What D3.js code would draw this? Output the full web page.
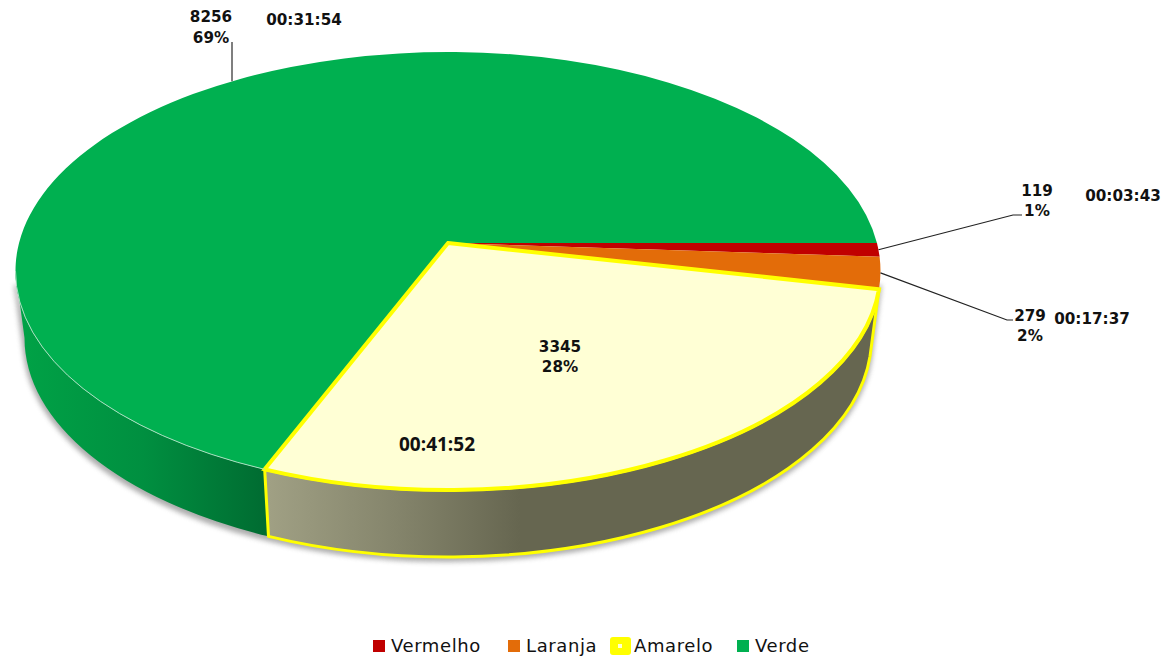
<!DOCTYPE html>
<html>
<head>
<meta charset="utf-8">
<script src="https://d3js.org/d3.v7.min.js"></script>
<style>
  html, body { margin: 0; padding: 0; background: #fff; }
  svg { display: block; }
  .lbl { font-family: "DejaVu Sans", sans-serif; font-weight: bold; font-size: 15.2px; fill: #111; text-anchor: middle; }
  .legend-text { font-family: "DejaVu Sans", sans-serif; font-size: 18px; letter-spacing: 0.6px; fill: #111; }
</style>
</head>
<body>
<div id="chart"></div>
<script>
const categories = ["Vermelho", "Laranja", "Amarelo", "Verde"];
const counts = [119, 279, 3345, 8256];
const percents = ["1%", "2%", "28%", "69%"];
const times = ["00:03:43", "00:17:37", "00:41:52", "00:31:54"];
const colors = ["#C00000", "#E36C09", "#FFFFD5", "#00B050"];

const width = 1164;
const height = 656;

const svg = d3.select("#chart")
    .append("svg")
    .attr("width", width)
    .attr("height", height);

// pie geometry, the top is a tilted disc so the apex sits above the ellipse centre
const cx = 448, cy = 271, rx = 432.5, ry = 219;
const apexY = 243;
const depth = 67, bottomRx = 423.5;

const arcs = d3.pie().sort(null).startAngle(Math.PI / 2).endAngle(Math.PI * 2.5)(counts);

// angle on the ellipse where a ray from the apex at pie angle a lands
function rimAngle(a) {
    const k = (cy - apexY) / ry;
    const dx = Math.cos(a - Math.PI / 2), dy = Math.sin(a - Math.PI / 2);
    const b = -k * dy;
    const t = -b + Math.sqrt(b * b - (k * k - 1));
    return Math.atan2(t * dy - k, t * dx);
}
function rimPoint(t) { return [cx + rx * Math.cos(t), cy + ry * Math.sin(t)]; }
function bottomPoint(t) { return [cx + bottomRx * Math.cos(t), cy + depth + ry * Math.sin(t)]; }

function topPath(d) {
    let t0 = rimAngle(d.startAngle), t1 = rimAngle(d.endAngle);
    if (t1 < t0) t1 += Math.PI * 2;
    const large = t1 - t0 > Math.PI ? 1 : 0;
    const p0 = rimPoint(t0), p1 = rimPoint(t1);
    return `M${cx},${apexY}L${p0}A${rx},${ry} 0 ${large} 1 ${p1}Z`;
}
function wallPath(t0, t1) {
    const p0 = rimPoint(t0), p1 = rimPoint(t1), q0 = bottomPoint(t0), q1 = bottomPoint(t1);
    return `M${p0}A${rx},${ry} 0 0 1 ${p1}L${q1}A${bottomRx},${ry} 0 0 0 ${q0}Z`;
}

const defs = svg.append("defs");
defs.append("filter").attr("id", "blur")
    .attr("x", "-5%").attr("y", "-5%").attr("width", "110%").attr("height", "110%")
    .append("feGaussianBlur").attr("stdDeviation", 2.5);

function wallGradient(id, x1, x2, stops) {
    const g = defs.append("linearGradient").attr("id", id)
        .attr("gradientUnits", "userSpaceOnUse")
        .attr("x1", x1).attr("x2", x2).attr("y1", 0).attr("y2", 0);
    stops.forEach(s => g.append("stop").attr("offset", s[0]).attr("stop-color", s[1]));
}
wallGradient("wallGreen", 20, 268, [[0, "#00A246"], [0.5, "#008F40"], [1, "#006B31"]]);
wallGradient("wallYellow", 268, 520, [[0, "#A0A084"], [0.5, "#85856C"], [1, "#666650"]]);

const yellowArc = arcs[2];
const seam = rimAngle(yellowArc.endAngle);
const wallEnd = rimAngle(yellowArc.startAngle);

// soft shadow under the pie
svg.append("path")
    .attr("d", wallPath(0.05, Math.PI - 0.05))
    .attr("transform", "translate(0,3)")
    .attr("fill", "#777")
    .attr("stroke", "#777")
    .attr("stroke-width", 4)
    .attr("opacity", 0.6)
    .attr("filter", "url(#blur)");

// side walls
svg.append("path")
    .attr("d", wallPath(seam, Math.PI))
    .attr("fill", "url(#wallGreen)");

svg.append("path")
    .attr("d", wallPath(wallEnd, seam))
    .attr("fill", "url(#wallYellow)")
    .attr("stroke", "#FFFF00")
    .attr("stroke-width", 3)
    .attr("stroke-linejoin", "round");

// top slices, yellow goes last because of its outline
const order = [3, 0, 1, 2];
svg.append("g").selectAll("path")
    .data(order.map(i => arcs[i]))
    .enter()
    .append("path")
    .attr("d", topPath)
    .attr("fill", d => colors[d.index])
    .attr("stroke", d => d.index === 2 ? "#FFFF00" : "none")
    .attr("stroke-width", 4)
    .attr("stroke-linejoin", "miter");

// pale edge where the green top meets its wall
const seamPt = rimPoint(seam), leftPt = rimPoint(Math.PI);
svg.append("path")
    .attr("d", `M${seamPt}A${rx},${ry} 0 0 1 ${leftPt}`)
    .attr("fill", "none")
    .attr("stroke", "#A8E0C0")
    .attr("stroke-width", 1);

// leader lines
const leaders = [
    { i: 0, to: [1013, 215], end: [1022, 215] },
    { i: 1, to: [1007, 320], end: [1013, 320] },
    { i: 3, to: [232, 42], end: [232, 42] }
];
const leaderLine = d3.line();
svg.append("g").selectAll("path")
    .data(leaders)
    .enter()
    .append("path")
    .attr("d", d => {
        const a = arcs[d.i];
        const t = rimAngle((a.startAngle + a.endAngle) / 2);
        const s = d.i === 3 ? [d.to[0], cy + ry * Math.sin(-Math.acos((d.to[0] - cx) / rx))] : rimPoint(t);
        return leaderLine([s, d.to, d.end]);
    })
    .attr("fill", "none")
    .attr("stroke", d => d.i === 3 ? "#555" : "#222")
    .attr("stroke-width", d => d.i === 3 ? 1.5 : 1.2);

// labels
const labelPos = [
    { count: [1037, 196], pct: [1037, 216], time: [1123, 201], tf: "lbl" },
    { count: [1030, 321], pct: [1030, 341], time: [1092, 324], tf: "lbl" },
    { count: [560, 352], pct: [560, 372], time: [437, 451], tf: "big" },
    { count: [211, 22], pct: [211, 43], time: [304, 25], tf: "lbl" }
];
const labels = svg.append("g");
labelPos.forEach((p, i) => {
    labels.append("text").attr("class", "lbl").attr("x", p.count[0]).attr("y", p.count[1]).text(counts[i]);
    labels.append("text").attr("class", "lbl").attr("x", p.pct[0]).attr("y", p.pct[1]).text(percents[i]);
    const t = labels.append("text").attr("class", "lbl").attr("x", p.time[0]).attr("y", p.time[1]).text(times[i]);
    if (p.tf === "big") t.style("font-family", "'Open Sans', sans-serif").style("font-size", "19px");
});

// legend
const legendX = [373, 508, 611, 737];
const legend = svg.append("g").selectAll("g")
    .data(categories)
    .enter()
    .append("g")
    .attr("transform", (d, i) => `translate(${legendX[i]},646)`);

legend.append("rect")
    .attr("x", (d, i) => i === 2 ? -1 : 0)
    .attr("y", (d, i) => i === 2 ? -9 : -6)
    .attr("width", (d, i) => i === 2 ? 21 : 12)
    .attr("height", (d, i) => i === 2 ? 18 : 12)
    .attr("rx", (d, i) => i === 2 ? 3 : 0)
    .attr("fill", (d, i) => i === 2 ? "#FFFF00" : colors[i]);
legend.filter((d, i) => i === 2).append("rect")
    .attr("x", 7).attr("y", -2).attr("width", 4).attr("height", 4)
    .attr("fill", colors[2]);
legend.append("text")
    .attr("class", "legend-text")
    .attr("x", (d, i) => i === 2 ? 23 : 18)
    .attr("y", 6)
    .text(d => d);
</script>
</body>
</html>
